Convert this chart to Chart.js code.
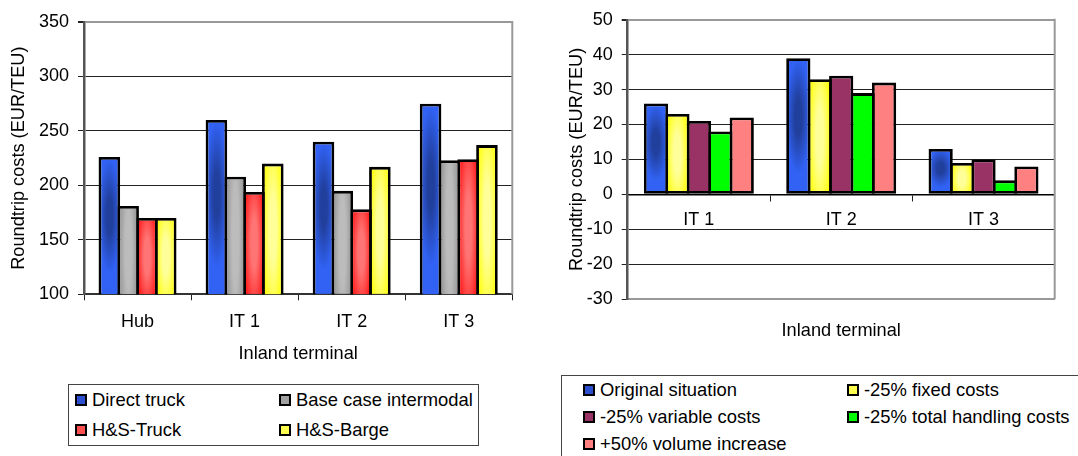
<!DOCTYPE html>
<html>
<head>
<meta charset="utf-8">
<script src="https://cdn.jsdelivr.net/npm/chart.js@4.4.1/dist/chart.umd.min.js"></script>
<style>
  html, body { margin: 0; padding: 0; background: #fff; width: 1078px; height: 456px; overflow: hidden; position: relative;
    font-family: "Liberation Sans", Arial, sans-serif; }
  canvas { position: absolute; }
  #costChart { left: 0; top: 0; }
  #sensChart { left: 558px; top: 0; }
  .legend { position: absolute; border: 1px solid #444; background: #fff; box-sizing: border-box; }
  #costLegend { left: 68px; top: 384px; width: 411px; height: 62px; }
  #sensLegend { left: 561px; top: 375px; width: 600px; height: 120px; }
  .legend ul { list-style: none; margin: 0; display: grid; }
  .legend li { display: flex; align-items: center; font-size: 18.4px; color: #000; white-space: nowrap; }
  .legend .sw { width: 12px; height: 12px; box-sizing: border-box; border: 2px solid #000; margin-right: 5px; flex: none; }
  #costLegend ul { grid-template-columns: 204px 200px; grid-auto-rows: 30px; padding: 0 0 0 6px; }
  #sensLegend ul { grid-template-columns: 264px 264px; grid-auto-rows: 27.2px; padding: 0 0 0 21px; }
</style>
</head>
<body>
<canvas id="costChart" width="540" height="380"></canvas>
<canvas id="sensChart" width="520" height="380"></canvas>
<div id="costLegend" class="legend"></div>
<div id="sensLegend" class="legend"></div>
<script>
// Roundtrip costs per terminal and transport concept (EUR/TEU)
const costCategories = ['Hub', 'IT 1', 'IT 2', 'IT 3'];
const directTruck = [226, 260, 240, 275];
const baseCaseIntermodal = [181, 208, 195, 223];
const hsTruck = [170, 194, 178, 224];
const hsBarge = [170, 220, 217, 237];
const costTicks = [100, 150, 200, 250, 300, 350];

// Sensitivity of roundtrip costs per inland terminal (EUR/TEU)
const terminals = ['IT 1', 'IT 2', 'IT 3'];
const originalSituation = [26, 39, 13];
const fixedCosts25 = [23, 33, 9];
const variableCosts25 = [21, 34, 10];
const handlingCosts25 = [18, 29, 4];
const volumeIncrease50 = [22, 32, 8];
const deltaTicks = [-30, -20, -10, 0, 10, 20, 30, 40, 50];

// Fill styles: edge colour, centre colour and the ellipse of the centre glow
const shades = {
  blue:   { edge: '#3162f4', mid: '#213f9c', cy: 0.43, ry: 0.42, swatch: '#2c4fd0' },
  gray:   { edge: '#8a8a8a', mid: '#bcbcbc', cy: 0.5,  ry: 1.4,  swatch: '#a0a0a0' },
  red:    { edge: '#ff1212', mid: '#ff7474', cy: 0.5,  ry: 0.8,  swatch: '#ff5050' },
  yellow: { edge: '#ffff00', mid: '#ffff9a', cy: 0.5,  ry: 0.8,  swatch: '#ffff50' },
  purple: { flat: '#993366', swatch: '#993366' },
  green:  { flat: '#00ff00', swatch: '#00ff00' },
  pink:   { flat: '#ff8080', swatch: '#ff8080' }
};

Chart.defaults.font.family = '"Liberation Sans", Arial, sans-serif';
Chart.defaults.font.size = 18;
Chart.defaults.color = '#000';

const glowCache = new Map();
function glowImage(s, w, h) {
  const key = [s.edge, s.mid, w, h].join('|');
  if (glowCache.has(key)) return glowCache.get(key);
  const c = document.createElement('canvas');
  c.width = w; c.height = h;
  const g = c.getContext('2d');
  g.fillStyle = s.edge;
  g.fillRect(0, 0, w, h);
  g.save();
  g.translate(w / 2, h * s.cy);
  g.scale(w / 2, h * s.ry);
  const rg = g.createRadialGradient(0, 0, 0, 0, 0, 1);
  rg.addColorStop(0, s.mid);
  rg.addColorStop(0.3, s.mid);
  rg.addColorStop(1, s.edge);
  g.fillStyle = rg;
  g.fillRect(-1.5, -s.cy / s.ry - 1, 3, 1 / s.ry + 2);
  g.restore();
  glowCache.set(key, c);
  return c;
}

// Scriptable bar fill: a glow pattern laid over the bar's rectangle, taken from the scales
function barFill(ctx) {
  const ds = ctx.dataset;
  const s = shades[ds.shade];
  if (s.flat) return s.flat;
  const chart = ctx.chart;
  const xs = chart.scales.x, ys = chart.scales.y;
  if (ctx.type !== 'data' || !xs || !ys || !chart.chartArea) return s.edge;
  const n = chart.data.datasets.length;
  const group = (xs.width / chart.data.labels.length) * ds.categoryPercentage;
  const slot = group / n;
  const width = slot * ds.barPercentage;
  const center = xs.getPixelForValue(ctx.dataIndex) - group / 2 + slot * (ctx.datasetIndex + 0.5);
  const head = ys.getPixelForValue(ctx.raw);
  const base = ys.getPixelForValue(ys.min > 0 ? ys.min : 0);
  const top = Math.min(head, base);
  const w = Math.max(1, Math.round(width));
  const h = Math.max(1, Math.round(Math.abs(base - head)));
  const pattern = chart.ctx.createPattern(glowImage(s, w, h), 'no-repeat');
  pattern.setTransform(new DOMMatrix().translate(center - width / 2, top));
  return pattern;
}

// Grey frame on the right side of the plot area
const plotFrame = {
  id: 'plotFrame',
  afterDraw(chart) {
    const { ctx, chartArea: { top, right, bottom } } = chart;
    ctx.save();
    ctx.strokeStyle = '#999';
    ctx.lineWidth = 2;
    ctx.beginPath();
    ctx.moveTo(right, top - 1);
    ctx.lineTo(right, bottom);
    ctx.stroke();
    ctx.restore();
  }
};

// Boxed legend laid out as a two-column grid
const htmlLegend = {
  id: 'htmlLegend',
  afterUpdate(chart, args, opts) {
    const box = document.getElementById(opts.containerID);
    let ul = box.querySelector('ul');
    if (!ul) { ul = document.createElement('ul'); box.appendChild(ul); }
    ul.innerHTML = '';
    chart.data.datasets.forEach(ds => {
      const li = document.createElement('li');
      const sw = document.createElement('span');
      sw.className = 'sw';
      sw.style.background = shades[ds.shade].swatch;
      li.appendChild(sw);
      li.appendChild(document.createTextNode(ds.label));
      ul.appendChild(li);
    });
  }
};

function barSet(label, data, shade, catPct, barPct) {
  return {
    label, data, shade,
    backgroundColor: barFill,
    borderColor: '#000', borderWidth: 2.8, borderSkipped: false,
    categoryPercentage: catPct, barPercentage: barPct
  };
}

function gridStyle(ticks) {
  const top = ticks[ticks.length - 1];
  return {
    color: c => (c.tick && c.tick.value === top) ? '#999' : '#222',
    lineWidth: c => (c.tick && c.tick.value === top) ? 2 : 1,
    tickColor: '#222',
    tickLength: 6
  };
}

const titleFont = { size: 18.2, lineHeight: 1.2 };

new Chart(document.getElementById('costChart'), {
  type: 'bar',
  data: {
    labels: costCategories,
    datasets: [
      barSet('Direct truck', directTruck, 'blue', 0.702, 1.149),
      barSet('Base case intermodal', baseCaseIntermodal, 'gray', 0.702, 1.149),
      barSet('H&S-Truck', hsTruck, 'red', 0.702, 1.149),
      barSet('H&S-Barge', hsBarge, 'yellow', 0.702, 1.149)
    ]
  },
  plugins: [plotFrame, htmlLegend],
  options: {
    responsive: false,
    animation: false,
    events: [],
    layout: { padding: { top: 22, right: 27.7, bottom: 0, left: 0 } },
    plugins: {
      legend: { display: false },
      tooltip: { enabled: false },
      htmlLegend: { containerID: 'costLegend' }
    },
    scales: {
      x: {
        offset: true,
        grid: { offset: true, drawOnChartArea: false, color: '#222', tickLength: 6 },
        border: { color: '#333', width: 2 },
        ticks: { padding: 10.9, font: { size: 18 } },
        title: { display: true, text: 'Inland terminal', font: titleFont, padding: { top: 0, bottom: 15.2 } },
        afterFit: s => { s.height = 85.7; }
      },
      y: {
        min: costTicks[0],
        max: costTicks[costTicks.length - 1],
        afterBuildTicks: s => { s.ticks = costTicks.map(v => ({ value: v })); },
        grid: gridStyle(costTicks),
        border: { color: '#555', width: 2.5 },
        ticks: { padding: 9, font: { size: 18 } },
        title: { display: true, text: 'Roundtrip costs (EUR/TEU)', font: titleFont, padding: { top: 8.2, bottom: 0 } },
        afterFit: s => { s.width = 84; }
      }
    }
  }
});

new Chart(document.getElementById('sensChart'), {
  type: 'bar',
  data: {
    labels: terminals,
    datasets: [
      barSet('Original situation', originalSituation, 'blue', 0.753, 1.13),
      barSet('-25% fixed costs', fixedCosts25, 'yellow', 0.753, 1.13),
      barSet('-25% variable costs', variableCosts25, 'purple', 0.753, 1.13),
      barSet('-25% total handling costs', handlingCosts25, 'green', 0.753, 1.13),
      barSet('+50% volume increase', volumeIncrease50, 'pink', 0.753, 1.13)
    ]
  },
  plugins: [plotFrame, htmlLegend],
  options: {
    responsive: false,
    animation: false,
    events: [],
    layout: { padding: { top: 15.7, right: 23.3, bottom: 0, left: 0 } },
    plugins: {
      legend: { display: false },
      tooltip: { enabled: false },
      htmlLegend: { containerID: 'sensLegend' }
    },
    scales: {
      x: {
        offset: true,
        grid: { display: false },
        border: { display: true, color: '#999', width: 2 },
        ticks: { display: false },
        title: { display: true, text: 'Inland terminal', font: titleFont, padding: { top: 0, bottom: 38.2 } },
        afterFit: s => { s.height = 81; }
      },
      xZero: {
        type: 'category',
        axis: 'x',
        position: { y: 0 },
        offset: true,
        grid: { offset: true, drawOnChartArea: false, color: '#222', tickLength: 6 },
        border: { color: '#000', width: 1.5 },
        ticks: { padding: 9.2, font: { size: 18 } }
      },
      y: {
        min: deltaTicks[0],
        max: deltaTicks[deltaTicks.length - 1],
        afterBuildTicks: s => { s.ticks = deltaTicks.map(v => ({ value: v })); },
        grid: gridStyle(deltaTicks),
        border: { color: '#555', width: 2.5 },
        ticks: { padding: 9, font: { size: 18 } },
        title: { display: true, text: 'Roundtrip costs (EUR/TEU)', font: titleFont, padding: { top: 7.9, bottom: 0 } },
        afterFit: s => { s.width = 69.7; }
      }
    }
  }
});
</script>
</body>
</html>
